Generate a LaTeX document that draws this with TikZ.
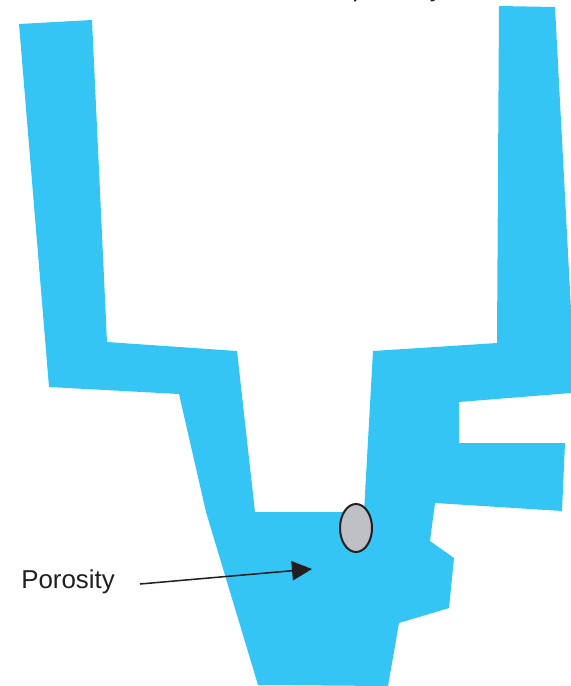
\documentclass[tikz,border=0pt]{standalone}
\usepackage{fontspec}
\setmainfont{Liberation Sans}
\usetikzlibrary{arrows.meta,shapes.geometric}
\definecolor{metalblue}{HTML}{35C5F5}
\definecolor{poregray}{HTML}{BFC0C4}
\definecolor{inkblack}{HTML}{231F20}
\tikzset{
  casting/.style={fill=metalblue,draw=none},
  pore/.style={draw=inkblack,line width=1.5pt,fill=poregray,ellipse,minimum width=24pt,minimum height=36pt,inner sep=0pt},
  lbl/.style={text=inkblack,font=\fontsize{19.4pt}{23pt}\selectfont,inner sep=0pt,anchor=base west},
  pointer/.style={draw=inkblack,line width=1.15pt,-{Triangle[length=15pt,width=14.5pt,fill=inkblack]}}
}
\begin{document}
\begin{tikzpicture}[x=0.75pt,y=-0.75pt]
\useasboundingbox (0,0) rectangle (571,686);
\begin{scope}
\clip (0,0) rectangle (571,686);
\fill[casting] (19,24) -- (92,20) -- (107,342) -- (237,351) -- (255,512) -- (364,512)
  -- (373,351) -- (497,343) -- (499,6) -- (555,7) -- (571,310) -- (571,393)
  -- (459,402) -- (459,443) -- (565,443) -- (562,511) -- (435,503) -- (430,541)
  -- (454,558) -- (449,608) -- (399,623) -- (388,686) -- (258,685) -- (206,512)
  -- (179,394) -- (49,387) -- cycle;
\node[lbl] (toplabel) at (352,-3.5) {porosity};
\end{scope}
\node[pore] (pore) at (356,528) {};
\node[lbl] (porosity) at (21,588) {Porosity};
\coordinate (arrowstart) at (140,584);
\coordinate (arrowtip) at (312,569);
\draw[pointer] (arrowstart) -- (arrowtip);
\end{tikzpicture}
\end{document}
